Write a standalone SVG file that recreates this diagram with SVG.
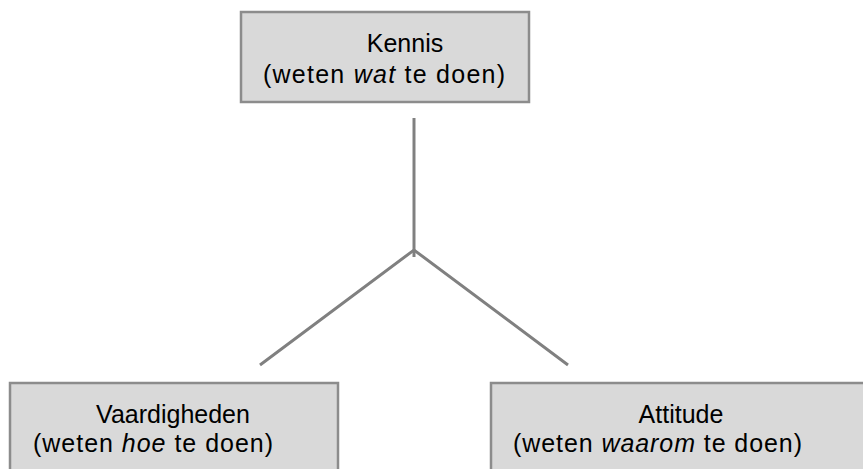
<svg xmlns="http://www.w3.org/2000/svg" width="863" height="469" viewBox="0 0 863 469">
<style>
.box{fill:#d9d9d9;stroke:#8c8c8c;stroke-width:2.5}
.t{font-family:"Liberation Sans",Arial,sans-serif;font-size:25px;fill:#000}
.c{stroke:#808080;stroke-width:3;fill:none}
</style>
<rect width="863" height="469" fill="#fff"/>
<g id="connectors">
<line class="c" x1="414" y1="118" x2="414" y2="257"/>
<polyline class="c" points="260,365 414,250 568,365"/>
</g>
<g id="kennis">
<rect class="box" x="241" y="12" width="288" height="90"/>
<text class="t" x="405" y="52" text-anchor="middle">Kennis</text>
<text class="t" x="263" y="83" textLength="242" lengthAdjust="spacing">(weten <tspan font-style="italic">wat</tspan> te doen)</text>
</g>
<g id="vaardigheden">
<rect class="box" x="10" y="383" width="328" height="100"/>
<text class="t" x="173" y="423" text-anchor="middle">Vaardigheden</text>
<text class="t" x="33" y="452" textLength="240" lengthAdjust="spacing">(weten <tspan font-style="italic">hoe</tspan> te doen)</text>
</g>
<g id="attitude">
<rect class="box" x="491" y="383" width="390" height="100"/>
<text class="t" x="681" y="423" text-anchor="middle">Attitude</text>
<text class="t" x="513" y="452" textLength="289" lengthAdjust="spacing">(weten <tspan font-style="italic">waarom</tspan> te doen)</text>
</g>
</svg>
